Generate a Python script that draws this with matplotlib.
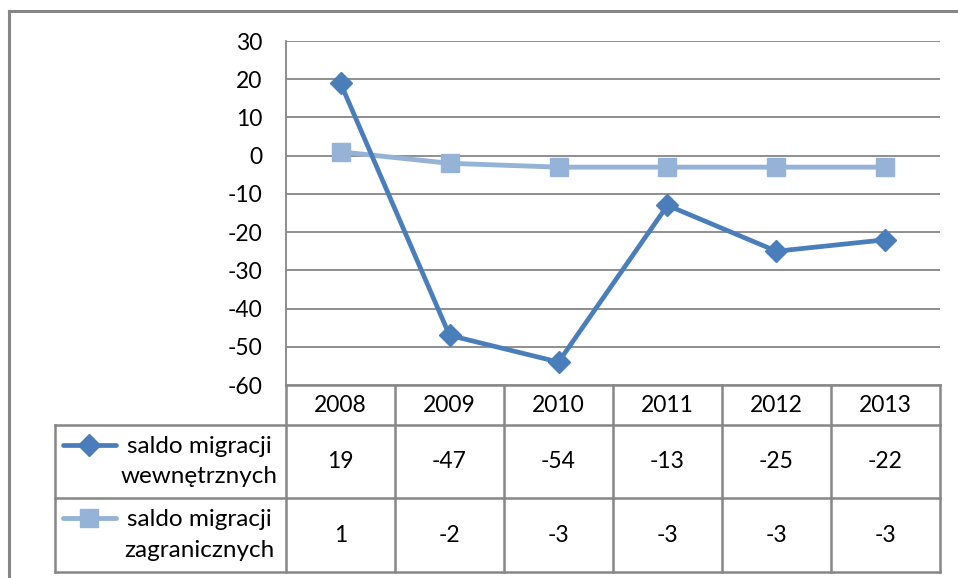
import numpy as np
import matplotlib.pyplot as plt
from matplotlib.lines import Line2D

years = ["2008", "2009", "2010", "2011", "2012", "2013"]
wewn = [19, -47, -54, -13, -25, -22]
zagr = [1, -2, -3, -3, -3, -3]
labels = ["saldo migracji\nwewnętrznych", "saldo migracji\nzagranicznych"]
yticks = list(range(-60, 31, 10))

c_dark = "#4A7EBB"
c_light = "#95B3D7"
c_grid = "#868686"

plt.rcParams["font.family"] = ["Lato", "DejaVu Sans"]
fs = 16.5

W, H = 958, 578
fig = plt.figure(figsize=(W / 100, H / 100), dpi=100)

# plot area in pixels
px0, px1, py0, py1 = 286, 940, 41, 385
ax = fig.add_axes([px0 / W, 1 - py1 / H, (px1 - px0) / W, (py1 - py0) / H])
x = np.arange(len(years))
ax.plot(x, zagr, color=c_light, lw=3.5, marker="s", ms=13.5, mfc=c_light, mec=c_light,
        solid_joinstyle="round", zorder=3)
ax.plot(x, wewn, color=c_dark, lw=3.4, marker="D", ms=11, mfc=c_dark, mec=c_dark,
        solid_joinstyle="round", zorder=4)
ax.set_xlim(-0.5, len(years) - 0.5)
ax.set_ylim(-60, 30)
ax.set_yticks(yticks)
ax.set_yticklabels([str(v) for v in yticks], fontsize=fs)
ax.set_xticks([])
ax.grid(axis="y", color=c_grid, lw=1.3)
ax.set_axisbelow(True)
for s in ["top", "right", "bottom"]:
    ax.spines[s].set_visible(False)
ax.spines["left"].set_color(c_grid)
ax.spines["left"].set_linewidth(1.3)
ax.tick_params(axis="y", length=0, pad=17)

# overlay in pixel coords for table and frame
ov = fig.add_axes([0, 0, 1, 1], zorder=-1)
ov.set_xlim(0, W)
ov.set_ylim(H, 0)
ov.axis("off")

def hline(y, xa, xb, lw=1.8):
    ov.add_line(Line2D([xa, xb], [y, y], color=c_grid, lw=lw))

def vline(xx, ya, yb, lw=1.8):
    ov.add_line(Line2D([xx, xx], [ya, yb], color=c_grid, lw=lw))

# outer frame
hline(11, 9, W, lw=2.2)
vline(9, 11, H, lw=2.2)

lab_x0 = 55
rows = [385, 425, 498, 572]
colw = (px1 - px0) / len(years)
cols = [px0 + i * colw for i in range(len(years) + 1)]

hline(rows[0], px0, px1)
for r in rows[1:]:
    hline(r, lab_x0, px1)
for c in cols:
    vline(c, rows[0], rows[-1])
vline(lab_x0, rows[1], rows[-1])

for i, yr in enumerate(years):
    cx = (cols[i] + cols[i + 1]) / 2
    ov.text(cx, (rows[0] + rows[1]) / 2 + 1, yr, ha="center", va="center", fontsize=fs)
    ov.text(cx, (rows[1] + rows[2]) / 2, str(wewn[i]), ha="center", va="center", fontsize=fs)
    ov.text(cx, (rows[2] + rows[3]) / 2, str(zagr[i]), ha="center", va="center", fontsize=fs)

# legend keys in row headers
series_style = [(c_dark, "D", 11, 3.4), (c_light, "s", 13.5, 3.5)]
for k, (col, mk, ms, lw) in enumerate(series_style):
    ty = rows[k + 1] + 20
    ov.add_line(Line2D([63, 116], [ty, ty], color=col, lw=lw, solid_capstyle="round"))
    ov.add_line(Line2D([89.5], [ty], color=col, marker=mk, ms=ms, mfc=col, mec=col))
    ov.text(199, (rows[k + 1] + rows[k + 2]) / 2, labels[k], ha="center", va="center",
            fontsize=17.5, linespacing=1.55)

fig.savefig("out.png", dpi=100)
